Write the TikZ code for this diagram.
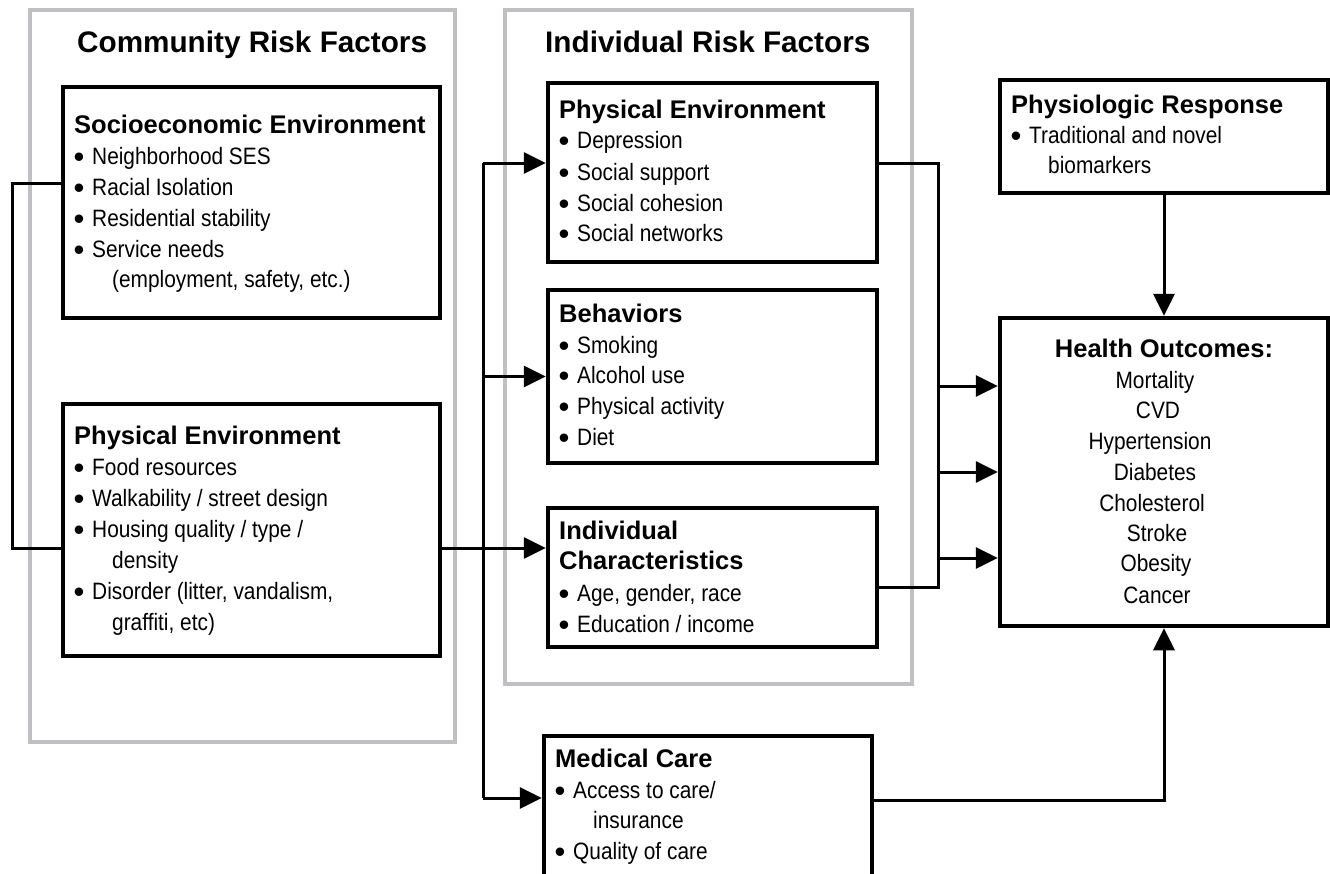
\documentclass[tikz,border=0pt]{standalone}
\usepackage{fontspec}
\setmainfont{Liberation Sans}
\newfontfamily\narrowfont{Liberation Sans}[FakeStretch=0.88]
\usetikzlibrary{arrows.meta}
\definecolor{framegrey}{RGB}{192,192,196}
\newcommand\ttlfont{\fontsize{29.7pt}{36pt}\selectfont\bfseries}
\newcommand\hdfont{\fontsize{25.5pt}{31pt}\selectfont\bfseries}
\newcommand\bdfont{\narrowfont\fontsize{23.7pt}{31pt}\selectfont}
\newcommand\itembullet{\makebox[18pt][l]{\hspace*{-0.5pt}\raisebox{-3.5pt}{\rmfamily\fontsize{31pt}{31pt}\selectfont •}}}
\tikzset{
  frame/.style={draw=framegrey, line width=4pt, inner sep=0pt},
  box/.style={draw=black, line width=4.5pt, inner sep=0pt},
  conn/.style={line width=3pt},
  arr/.style={conn, -{Triangle[length=22pt,width=21pt]}},
  ttl/.style={anchor=base west, inner sep=0pt, font=\ttlfont},
  hd/.style={anchor=base west, inner sep=0pt, font=\hdfont},
  hdc/.style={anchor=base, inner sep=0pt, font=\hdfont},
  bd/.style={anchor=base west, inner sep=0pt, font=\bdfont},
  bdc/.style={anchor=base, inner sep=0pt, font=\bdfont},
}
\begin{document}
\begin{tikzpicture}[x=1pt, y=-1pt]
\useasboundingbox (0,0) rectangle (1330,873);
\clip (0,0) rectangle (1330,873);

% grey frames
\node[frame, minimum width=425pt, minimum height=732pt] (commframe) at (242.5,376) {};
\node[frame, minimum width=407pt, minimum height=674pt] (indframe) at (708.5,347) {};
\node[ttl] (commttl) at (77,52) {Community Risk Factors};
\node[ttl] (indttl) at (545,52) {Individual Risk Factors};

% boxes
\node[box, minimum width=377pt, minimum height=231pt] (socio) at (251.5,202.5) {};
\node[box, minimum width=377pt, minimum height=252pt] (commphys) at (251.5,530) {};
\node[box, minimum width=329pt, minimum height=179pt] (physind) at (712.5,172.5) {};
\node[box, minimum width=329pt, minimum height=173pt] (behav) at (712.5,376.5) {};
\node[box, minimum width=329pt, minimum height=139pt] (indchar) at (712.5,577.5) {};
\node[box, minimum width=328pt, minimum height=164pt] (medcare) at (708,818) {};
\node[box, minimum width=328pt, minimum height=113pt] (pr) at (1164,136.5) {};
\node[box, minimum width=328pt, minimum height=308pt] (ho) at (1164,472) {};

% socioeconomic text
\node[hd] (s0) at (74,133) {Socioeconomic Environment};
\node[bd] (s1) at (74,164) {\itembullet Neighborhood SES};
\node[bd] (s2) at (74,195) {\itembullet Racial Isolation};
\node[bd] (s3) at (74,226) {\itembullet Residential stability};
\node[bd] (s4) at (74,257) {\itembullet Service needs};
\node[bd] (s5) at (112,287) {(employment, safety, etc.)};

% community physical environment text
\node[hd] (c0) at (74,444) {Physical Environment};
\node[bd] (c1) at (74,475) {\itembullet Food resources};
\node[bd] (c2) at (74,506) {\itembullet Walkability / street design};
\node[bd] (c3) at (74,537) {\itembullet Housing quality / type /};
\node[bd] (c4) at (112,568) {density};
\node[bd] (c5) at (74,599) {\itembullet Disorder (litter, vandalism,};
\node[bd] (c6) at (112,630) {graffiti, etc)};

% individual physical environment text
\node[hd] (p0) at (559,118) {Physical Environment};
\node[bd] (p1) at (559,148) {\itembullet Depression};
\node[bd] (p2) at (559,180) {\itembullet Social support};
\node[bd] (p3) at (559,211) {\itembullet Social cohesion};
\node[bd] (p4) at (559,241) {\itembullet Social networks};

% behaviors text
\node[hd] (b0) at (559,322) {Behaviors};
\node[bd] (b1) at (559,353) {\itembullet Smoking};
\node[bd] (b2) at (559,383) {\itembullet Alcohol use};
\node[bd] (b3) at (559,414) {\itembullet Physical activity};
\node[bd] (b4) at (559,445) {\itembullet Diet};

% individual characteristics text
\node[hd] (i0) at (559,539) {Individual};
\node[hd] (i1) at (559,569) {Characteristics};
\node[bd] (i2) at (559,601) {\itembullet Age, gender, race};
\node[bd] (i3) at (559,632) {\itembullet Education / income};

% medical care text
\node[hd] (m0) at (555,767) {Medical Care};
\node[bd] (m1) at (555,798) {\itembullet Access to care/};
\node[bd] (m2) at (593,828) {insurance};
\node[bd] (m3) at (555,859) {\itembullet Quality of care};

% physiologic response text
\node[hd] (r0) at (1011,113) {Physiologic Response};
\node[bd] (r1) at (1011,143) {\itembullet Traditional and novel};
\node[bd] (r2) at (1048,173) {biomarkers};

% health outcomes text
\node[hdc] (h0) at (1164,357) {Health Outcomes:};
\node[bdc] (h1) at (1155,388) {Mortality};
\node[bdc] (h2) at (1158,418) {CVD};
\node[bdc] (h3) at (1150,449) {Hypertension};
\node[bdc] (h4) at (1155,480) {Diabetes};
\node[bdc] (h5) at (1152,511) {Cholesterol};
\node[bdc] (h6) at (1157,541) {Stroke};
\node[bdc] (h7) at (1156,571) {Obesity};
\node[bdc] (h8) at (1157,603) {Cancer};

% connectors
\coordinate (lft) at (12,548);
\draw[conn] ([yshift=19.5pt]socio.west) -| (lft) -- ([yshift=-18pt]commphys.west);
\draw[arr] ([yshift=-18pt]commphys.east) -- ([yshift=29.5pt]indchar.west);

\coordinate (vt) at (483,163);
\coordinate (vb) at (483,798);
\draw[conn] (vt) -- (vb);
\draw[arr] (vt) -- (vt -| physind.west);
\draw[arr] (vt |- behav.west) -- (behav.west);
\draw[arr] (vb) -- (vb -| medcare.west);

\coordinate (rt) at (938,163);
\coordinate (rb) at (938,587);
\draw[conn] (physind.east |- rt) -- (rt) -- (rb) -- (indchar.east |- rb);
\draw[arr] ([yshift=86pt]rt |- ho.west) -- ([yshift=86pt]ho.west);
\draw[arr] (rt |- ho.west) -- (ho.west);
\draw[arr] ([yshift=-86pt]rt |- ho.west) -- ([yshift=-86pt]ho.west);

\draw[arr] (pr.south) -- (ho.north);
\draw[arr] ([yshift=18pt]medcare.east) -| (ho.south);
\end{tikzpicture}
\end{document}
